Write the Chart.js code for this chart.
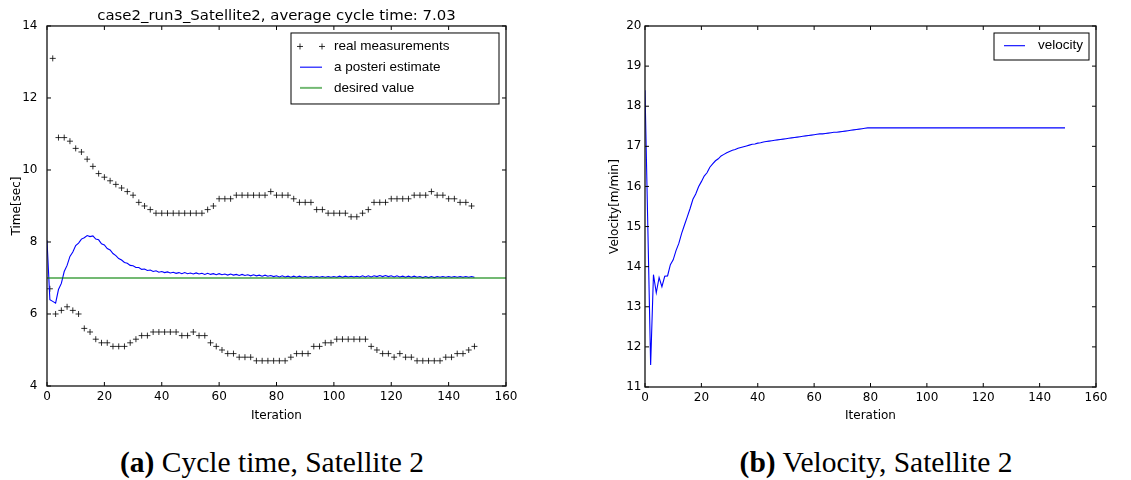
<!DOCTYPE html>
<html>
<head>
<meta charset="utf-8">
<script src="https://cdn.jsdelivr.net/npm/chart.js@4.4.1/dist/chart.umd.min.js"></script>
<style>
  body { margin: 0; background: #fff; width: 1131px; height: 480px; position: relative; overflow: hidden; }
  #cycle { position: absolute; left: 0; top: 0; }
  #velocity { position: absolute; left: 580px; top: 0; }
  .caption { position: absolute; top: 445px; width: 500px; text-align: center;
             font-family: "Liberation Serif", "DejaVu Serif", serif; font-size: 29.5px; line-height: 34px; color: #000; }
</style>
</head>
<body>
<canvas id="cycle" width="560" height="440"></canvas>
<canvas id="velocity" width="551" height="440"></canvas>
<div class="caption" style="left:22px"><b>(a)</b> Cycle time, Satellite 2</div>
<div class="caption" style="left:626px"><b>(b)</b> Velocity, Satellite 2</div>
<script>
// measured cycle time, iterations 1..149 (alternates between the two tracks)
const measured = [
  6.7, 13.1, 6.0, 10.9, 6.1, 10.9, 6.2, 10.8, 6.1, 10.6,
  6.0, 10.5, 5.6, 10.3, 5.5, 10.1, 5.3, 9.9, 5.2, 9.8,
  5.2, 9.7, 5.1, 9.6, 5.1, 9.5, 5.1, 9.4, 5.2, 9.3,
  5.3, 9.1, 5.4, 9.0, 5.4, 8.9, 5.5, 8.8, 5.5, 8.8,
  5.5, 8.8, 5.5, 8.8, 5.5, 8.8, 5.4, 8.8, 5.4, 8.8,
  5.5, 8.8, 5.4, 8.8, 5.4, 8.9, 5.2, 9.0, 5.1, 9.2,
  5.0, 9.2, 4.9, 9.2, 4.9, 9.3, 4.8, 9.3, 4.8, 9.3,
  4.8, 9.3, 4.7, 9.3, 4.7, 9.3, 4.7, 9.4, 4.7, 9.3,
  4.7, 9.3, 4.7, 9.3, 4.8, 9.2, 4.9, 9.1, 4.9, 9.1,
  4.9, 9.1, 5.1, 8.9, 5.1, 8.9, 5.2, 8.8, 5.2, 8.8,
  5.3, 8.8, 5.3, 8.8, 5.3, 8.7, 5.3, 8.7, 5.3, 8.8,
  5.3, 8.9, 5.1, 9.1, 5.0, 9.1, 4.9, 9.1, 4.9, 9.2,
  4.8, 9.2, 4.9, 9.2, 4.8, 9.2, 4.8, 9.3, 4.7, 9.3,
  4.7, 9.3, 4.7, 9.4, 4.7, 9.3, 4.7, 9.3, 4.8, 9.2,
  4.8, 9.2, 4.9, 9.1, 4.9, 9.1, 5.0, 9.0, 5.1
];

// a posteri estimate, iterations 0..149
const estimate = [
  8.05, 6.4, 6.35, 6.3, 6.68, 6.85, 7.18, 7.35, 7.6, 7.72,
  7.9, 7.97, 8.08, 8.12, 8.18, 8.15, 8.17, 8.08, 8.06, 7.95,
  7.92, 7.82, 7.78, 7.68, 7.62, 7.54, 7.5, 7.43, 7.41, 7.35,
  7.34, 7.29, 7.29, 7.24, 7.25, 7.21, 7.22, 7.18, 7.2, 7.16,
  7.18, 7.15, 7.17, 7.14, 7.16, 7.13, 7.15, 7.12, 7.15, 7.12,
  7.14, 7.11, 7.14, 7.11, 7.13, 7.1, 7.13, 7.1, 7.12, 7.09,
  7.12, 7.09, 7.11, 7.08, 7.11, 7.08, 7.1, 7.07, 7.1, 7.07,
  7.09, 7.06, 7.09, 7.06, 7.08, 7.05, 7.08, 7.05, 7.07, 7.04,
  7.06, 7.03, 7.06, 7.03, 7.05, 7.02, 7.05, 7.02, 7.05, 7.02,
  7.04, 7.02, 7.04, 7.02, 7.04, 7.02, 7.04, 7.02, 7.04, 7.02,
  7.04, 7.02, 7.05, 7.02, 7.05, 7.03, 7.05, 7.03, 7.05, 7.03,
  7.06, 7.03, 7.06, 7.03, 7.06, 7.04, 7.07, 7.04, 7.07, 7.04,
  7.06, 7.03, 7.06, 7.03, 7.05, 7.02, 7.05, 7.02, 7.05, 7.02,
  7.04, 7.01, 7.04, 7.01, 7.04, 7.01, 7.04, 7.02, 7.04, 7.02,
  7.04, 7.02, 7.04, 7.02, 7.04, 7.02, 7.04, 7.02, 7.04, 7.02
];

// desired value line, start and end iteration
const desiredValue = 7.0;
const desiredRange = [0, 160];

// velocity, iterations 0..149
const velocity = [
  18.4, 15.0, 11.55, 13.8, 13.35, 13.73, 13.5, 13.76, 13.77, 14.05,
  14.17, 14.4, 14.58, 14.83, 15.04, 15.24, 15.45, 15.68, 15.81, 15.99,
  16.12, 16.26, 16.34, 16.48, 16.56, 16.64, 16.69, 16.76, 16.8, 16.84,
  16.87, 16.9, 16.92, 16.95, 16.97, 16.99, 17.01, 17.03, 17.05, 17.06,
  17.08, 17.09, 17.11, 17.12, 17.13, 17.14, 17.15, 17.16, 17.17, 17.18,
  17.19, 17.2, 17.21, 17.22, 17.23, 17.24, 17.25, 17.26, 17.27, 17.28,
  17.29, 17.3, 17.31, 17.31, 17.32, 17.33, 17.34, 17.35, 17.35, 17.36,
  17.37, 17.38, 17.39, 17.4, 17.41, 17.42, 17.43, 17.44, 17.45, 17.46,
  17.46, 17.46, 17.46, 17.46, 17.46, 17.46, 17.46, 17.46, 17.46, 17.46,
  17.46, 17.46, 17.46, 17.46, 17.46, 17.46, 17.46, 17.46, 17.46, 17.46,
  17.46, 17.46, 17.46, 17.46, 17.46, 17.46, 17.46, 17.46, 17.46, 17.46,
  17.46, 17.46, 17.46, 17.46, 17.46, 17.46, 17.46, 17.46, 17.46, 17.46,
  17.46, 17.46, 17.46, 17.46, 17.46, 17.46, 17.46, 17.46, 17.46, 17.46,
  17.46, 17.46, 17.46, 17.46, 17.46, 17.46, 17.46, 17.46, 17.46, 17.46,
  17.46, 17.46, 17.46, 17.46, 17.46, 17.46, 17.46, 17.46, 17.46, 17.46
];

// tick labels
const iterTicks = [0, 20, 40, 60, 80, 100, 120, 140, 160];
const timeTicks = [4, 6, 8, 10, 12, 14];
const velTicks = [11, 12, 13, 14, 15, 16, 17, 18, 19, 20];

const sans = 'DejaVu Sans';

// matplotlib style box around the plot with inward ticks on all four sides
const boxFrame = {
  id: 'boxFrame',
  afterDatasetsDraw(chart) {
    const { ctx, chartArea: a, scales: { x, y } } = chart;
    ctx.save();
    ctx.strokeStyle = '#000';
    ctx.lineWidth = 1;
    ctx.beginPath();
    x.ticks.forEach(t => {
      const px = x.getPixelForValue(t.value);
      ctx.moveTo(px, a.bottom); ctx.lineTo(px, a.bottom - 4);
      ctx.moveTo(px, a.top); ctx.lineTo(px, a.top + 4);
    });
    y.ticks.forEach(t => {
      const py = y.getPixelForValue(t.value);
      ctx.moveTo(a.left, py); ctx.lineTo(a.left + 4, py);
      ctx.moveTo(a.right, py); ctx.lineTo(a.right - 4, py);
    });
    ctx.stroke();
    ctx.lineWidth = 1.3;
    ctx.strokeStyle = '#111';
    ctx.strokeRect(a.left, a.top, a.right - a.left, a.bottom - a.top);
    ctx.restore();
  }
};

// legend drawn inside the plot, upper right
const boxLegend = {
  id: 'boxLegend',
  afterDraw(chart, args, opts) {
    const { ctx, chartArea: a } = chart;
    const left = a.right - 7 - opts.width;
    const top = a.top + 7;
    ctx.save();
    ctx.fillStyle = '#fff';
    ctx.fillRect(left, top, opts.width, opts.height);
    ctx.strokeStyle = '#000';
    ctx.lineWidth = 1;
    ctx.strokeRect(left, top, opts.width, opts.height);
    chart.data.datasets.forEach((ds, i) => {
      const cy = top + opts.firstRow + i * opts.rowGap;
      const x1 = left + opts.handle[0], x2 = left + opts.handle[1];
      ctx.strokeStyle = ds.borderColor;
      ctx.lineWidth = ds.borderWidth;
      ctx.beginPath();
      if (ds.showLine === false) {
        [x1, x2].forEach(px => {
          ctx.moveTo(px - ds.pointRadius, cy); ctx.lineTo(px + ds.pointRadius, cy);
          ctx.moveTo(px, cy - ds.pointRadius); ctx.lineTo(px, cy + ds.pointRadius);
        });
      } else {
        ctx.moveTo(x1, cy); ctx.lineTo(x2, cy);
      }
      ctx.stroke();
      ctx.fillStyle = '#000';
      ctx.font = '13.5px "Liberation Sans"';
      ctx.textBaseline = 'middle';
      ctx.fillText(ds.label, left + opts.textX, cy);
    });
    ctx.restore();
  }
};

function axisX(height) {
  return {
    type: 'linear', min: 0, max: 160,
    afterBuildTicks: s => { s.ticks = iterTicks.map(v => ({ value: v })); },
    afterFit: s => { s.height = height; },
    grid: { display: false, drawTicks: false },
    border: { display: false },
    ticks: { color: '#000', font: { family: sans, size: 12 }, padding: 4, maxRotation: 0 },
    title: { display: true, text: 'Iteration', color: '#000', font: { family: sans, size: 12 },
             padding: { top: 0, bottom: 17 } }
  };
}

function axisY(min, max, tickList, label, width, labelPad, titlePad) {
  return {
    type: 'linear', min: min, max: max,
    afterBuildTicks: s => { s.ticks = tickList.map(v => ({ value: v })); },
    afterFit: s => { s.width = width; },
    grid: { display: false, drawTicks: false },
    border: { display: false },
    ticks: { color: '#000', font: { family: sans, size: 12 }, padding: labelPad },
    title: { display: true, text: label, color: '#000', font: { family: sans, size: 12 },
             padding: { top: titlePad, bottom: 0 } }
  };
}

new Chart(document.getElementById('cycle'), {
  type: 'line',
  data: {
    datasets: [{
      label: 'real measurements',
      data: measured.map((v, i) => ({ x: i + 1, y: v })),
      showLine: false,
      pointStyle: 'cross',
      pointRadius: 3,
      borderColor: 'rgba(0,0,0,0.8)',
      borderWidth: 1,
      order: 3
    }, {
      label: 'a posteri estimate',
      data: estimate.map((v, i) => ({ x: i, y: v })),
      borderColor: '#0000ff',
      borderWidth: 1.1,
      pointRadius: 0,
      tension: 0,
      order: 2
    }, {
      label: 'desired value',
      data: desiredRange.map(x => ({ x: x, y: desiredValue })),
      borderColor: 'rgba(0,128,0,0.55)',
      borderWidth: 2,
      pointRadius: 0,
      order: 1
    }]
  },
  options: {
    responsive: false,
    animation: false,
    layout: { padding: { left: 0, right: 54, top: 0, bottom: 0 } },
    scales: {
      x: axisX(54),
      y: axisY(4, 14, timeTicks, 'Time[sec]', 47, 9.5, 9.8)
    },
    plugins: {
      legend: { display: false },
      tooltip: { enabled: false },
      title: {
        display: true,
        fullSize: false,
        text: 'case2_run3_Satellite2, average cycle time: 7.03',
        color: '#000',
        font: { family: sans, size: 14.9, weight: 'normal' },
        padding: { top: 7.1, bottom: 1.0 }
      },
      boxLegend: { width: 208, height: 71, firstRow: 13.5, rowGap: 20.7, handle: [9, 31], textX: 43 }
    }
  },
  plugins: [boxFrame, boxLegend]
});

new Chart(document.getElementById('velocity'), {
  type: 'line',
  data: {
    datasets: [{
      label: 'velocity',
      data: velocity.map((v, i) => ({ x: i, y: v })),
      borderColor: '#0000ff',
      borderWidth: 1.1,
      pointRadius: 0,
      tension: 0
    }]
  },
  options: {
    responsive: false,
    animation: false,
    layout: { padding: { left: 0, right: 35, top: 26, bottom: 0 } },
    scales: {
      x: axisX(53),
      y: axisY(11, 20, velTicks, 'Velocity[m/min]', 65, 3.5, 27.8)
    },
    plugins: {
      legend: { display: false },
      tooltip: { enabled: false },
      boxLegend: { width: 95, height: 27, firstRow: 12.7, rowGap: 20.7, handle: [10, 31], textX: 44 }
    }
  },
  plugins: [boxFrame, boxLegend]
});
</script>
</body>
</html>
